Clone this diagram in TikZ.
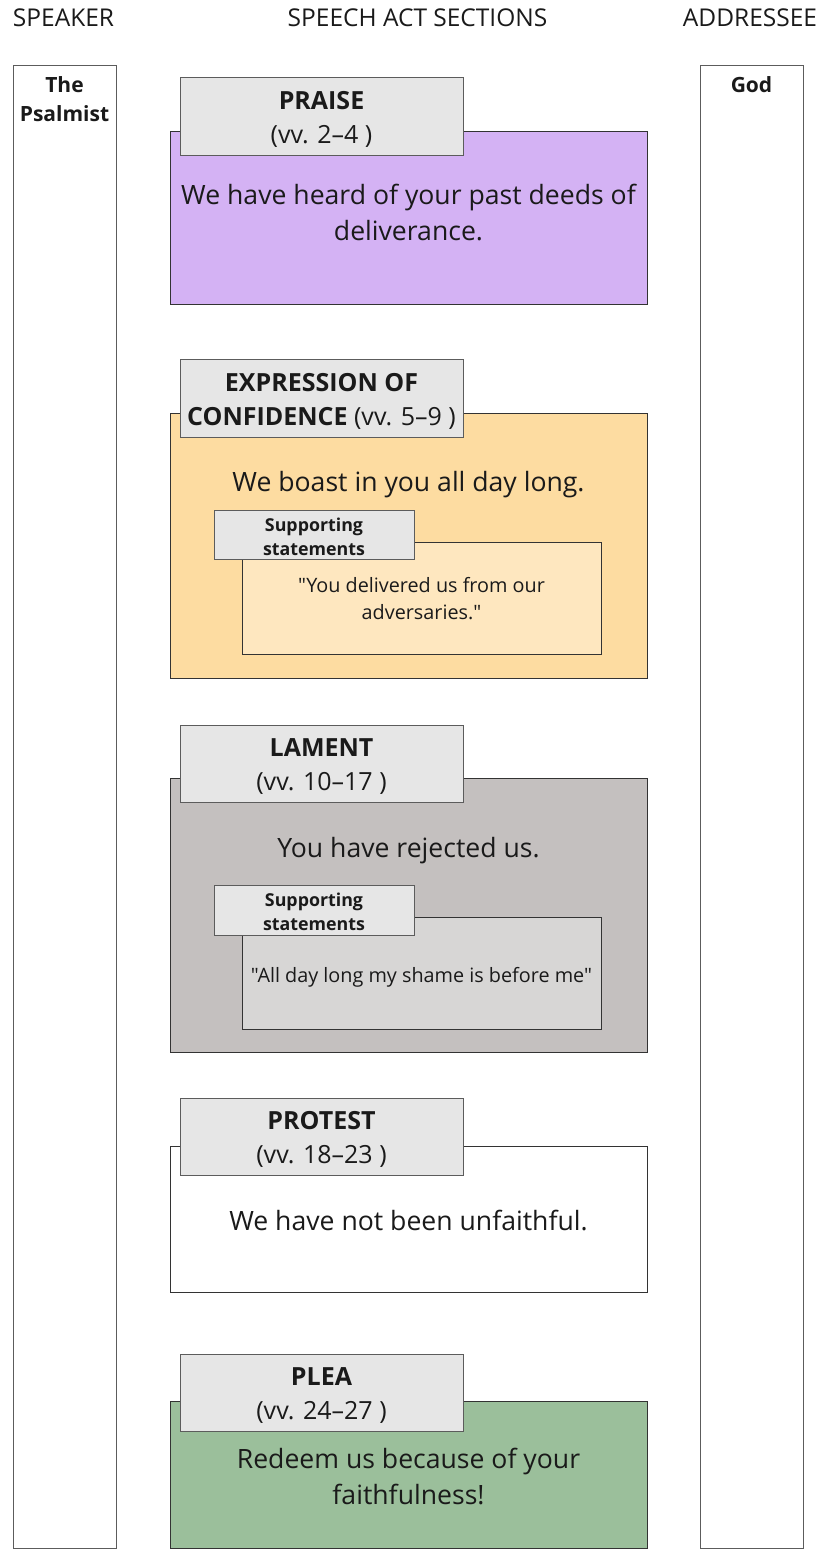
\documentclass[tikz,border=0pt]{standalone}
\usepackage{fontspec}
\setmainfont{Open Sans}[Ligatures=TeXOff]
\definecolor{bordc}{HTML}{333333}
\definecolor{labfill}{HTML}{E6E6E6}
\definecolor{praisec}{HTML}{D4B2F4}
\definecolor{confc}{HTML}{FDDCA1}
\definecolor{confsub}{HTML}{FEE7BF}
\definecolor{lamc}{HTML}{C4C0BF}
\definecolor{lamsub}{HTML}{D7D6D5}
\definecolor{pleac}{HTML}{9BBF9B}
\definecolor{txt}{HTML}{1A1A1A}
\begin{document}
\begin{tikzpicture}[x=1pt,y=-1pt,
  box/.style={draw=bordc,line width=0.9pt},
  labbox/.style={draw=bordc!80,line width=0.9pt,fill=labfill},
  hdr/.style={text=txt,font=\fontsize{24.5}{28}\selectfont,inner sep=0pt},
  collab/.style={text=txt,font=\fontsize{21}{29}\selectfont\bfseries,align=center,inner sep=0pt},
  ttl/.style={text=txt,font=\fontsize{25}{34}\selectfont,align=center,inner sep=0pt},
  maintxt/.style={text=txt,font=\fontsize{26.6}{36}\selectfont,align=center,inner sep=0pt},
  suplab/.style={text=txt,font=\fontsize{17.8}{24}\selectfont\bfseries,align=center,inner sep=0pt},
  quote/.style={text=txt,font=\fontsize{19.8}{27}\selectfont,align=center,inner sep=0pt}]
\useasboundingbox (0,0) rectangle (825,1557);
% headers
\node[hdr] (hs) at (63.5,18) {SPEAKER};
\node[hdr] (hc) at (417.5,18) {SPEECH ACT SECTIONS};
\node[hdr] (ha) at (750,18) {ADDRESSEE};
% columns
\draw[box,draw=bordc!80] (13,65) rectangle (116,1548);
\draw[box,draw=bordc!80] (700,65) rectangle (803,1548);
\node[collab] (spk) at (64.5,99.5) {The\\Psalmist};
\node[collab] (god) at (751.5,84.5) {God};
% PRAISE
\draw[box,fill=praisec] (170,131) rectangle (647,304);
\draw[labbox] (180,77) rectangle (463,155);
\node[ttl] (t1) at (321.5,119) {\textbf{PRAISE}\\(vv. 2–4 )};
\node[maintxt] (m1) at (408.5,213) {We have heard of your past deeds of\\deliverance.};
% CONFIDENCE
\draw[box,fill=confc] (170,413) rectangle (647,678);
\draw[labbox] (180,359) rectangle (463,437);
\node[ttl] (t2) at (321.5,401) {\textbf{EXPRESSION OF}\\\textbf{CONFIDENCE} (vv. 5–9 )};
\node[maintxt] (m2) at (408.5,485) {We boast in you all day long.};
\draw[box,fill=confsub] (242,542) rectangle (601,654);
\draw[labbox] (214,510) rectangle (414,559);
\node[suplab] (s2) at (314,537) {Supporting\\statements};
\node[quote] (q2) at (421.5,598.5) {"You delivered us from our\\adversaries."};
% LAMENT
\draw[box,fill=lamc] (170,778) rectangle (647,1052);
\draw[labbox] (180,725) rectangle (463,802);
\node[ttl] (t3) at (321.5,767) {\textbf{LAMENT}\\(vv. 10–17 )};
\node[maintxt] (m3) at (408.5,851) {You have rejected us.};
\draw[box,fill=lamsub] (242,917) rectangle (601,1029);
\draw[labbox] (214,885) rectangle (414,935);
\node[suplab] (s3) at (314,912) {Supporting\\statements};
\node[quote] (q3) at (421.5,977) {"All day long my shame is before me"};
% PROTEST
\draw[box,fill=white] (170,1146) rectangle (647,1292);
\draw[labbox] (180,1098) rectangle (463,1175);
\node[ttl] (t4) at (321.5,1139.5) {\textbf{PROTEST}\\(vv. 18–23 )};
\node[maintxt] (m4) at (408.5,1220) {We have not been unfaithful.};
% PLEA
\draw[box,fill=pleac] (170,1401) rectangle (647,1548);
\draw[labbox] (180,1354) rectangle (463,1431);
\node[ttl] (t5) at (321.5,1395.5) {\textbf{PLEA}\\(vv. 24–27 )};
\node[maintxt] (m5) at (408.5,1476) {Redeem us because of your\\faithfulness!};
\end{tikzpicture}
\end{document}
